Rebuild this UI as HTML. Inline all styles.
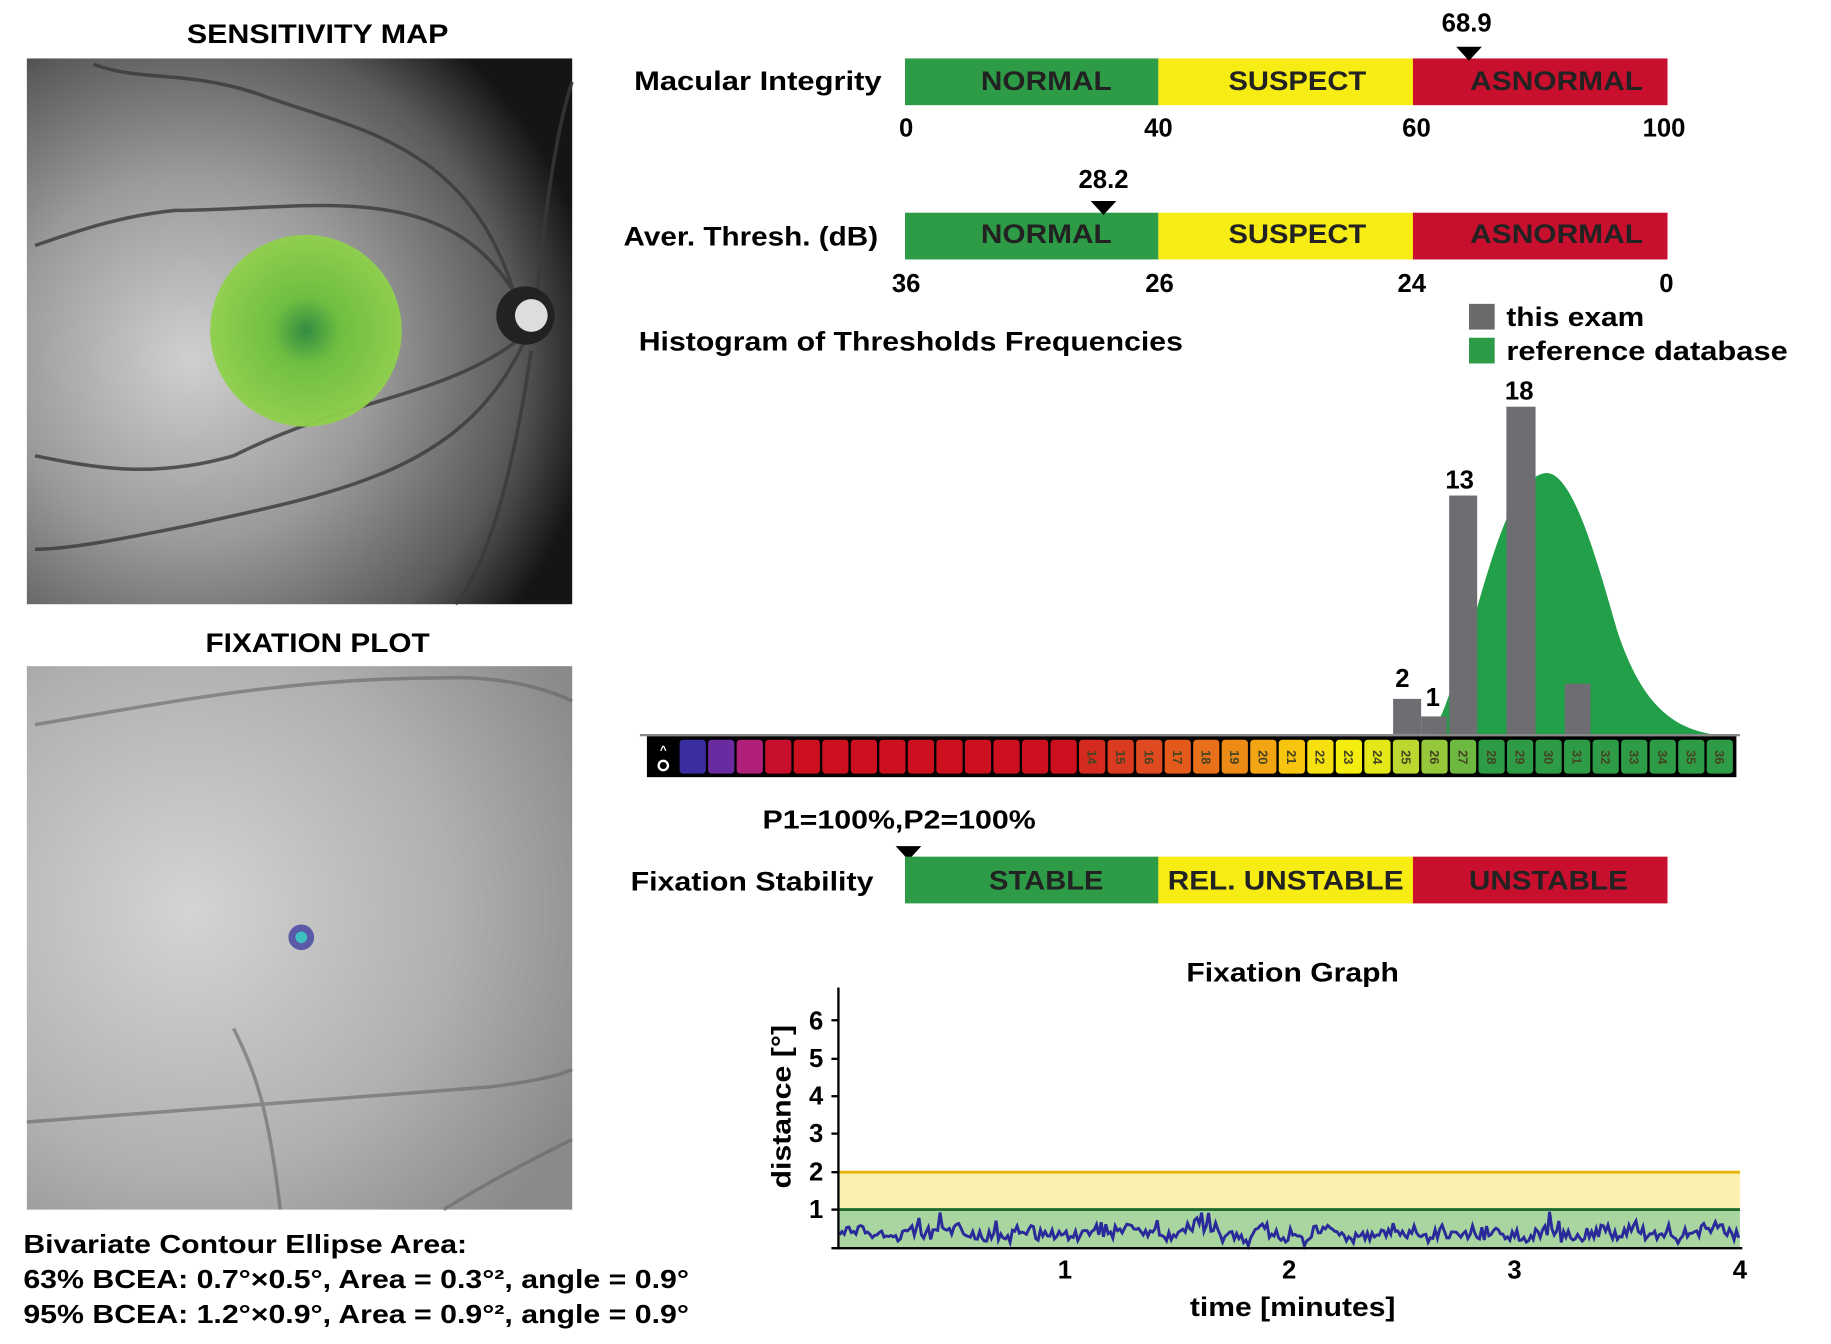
<!DOCTYPE html>
<html><head><meta charset="utf-8"><style>
html,body{margin:0;padding:0;background:#fff;}
svg{display:block;font-family:"Liberation Sans",Arial,sans-serif;font-weight:bold;}
</style></head><body>
<svg id="s" width="1831" height="1344" viewBox="0 0 1568 1150" preserveAspectRatio="none" xmlns="http://www.w3.org/2000/svg">
<defs>
<radialGradient id="fund" cx="0.3" cy="0.55" r="0.75">
<stop offset="0" stop-color="#d0d0d0"/><stop offset="0.45" stop-color="#9a9a9a"/><stop offset="0.8" stop-color="#5a5a5a"/><stop offset="1" stop-color="#151515"/>
</radialGradient>
<radialGradient id="fix" cx="0.3" cy="0.45" r="0.8">
<stop offset="0" stop-color="#d4d4d4"/><stop offset="0.6" stop-color="#b0b0b0"/><stop offset="1" stop-color="#8a8a8a"/>
</radialGradient>
<radialGradient id="disc" cx="0.5" cy="0.5" r="0.5">
<stop offset="0" stop-color="#2c8a3a"/><stop offset="0.35" stop-color="#6cbf3c"/><stop offset="1" stop-color="#8fd14a"/>
</radialGradient>
</defs>
<text x="272" y="37" font-size="23" text-anchor="middle" textLength="224" lengthAdjust="spacingAndGlyphs">SENSITIVITY MAP</text>
<rect x="23" y="50" width="467" height="467" fill="url(#fund)"/>
<g fill="none" stroke="#3a3a3a" stroke-width="3" opacity="0.8">
<path d="M440 250 C400 120 300 110 220 80 C160 60 120 70 80 55"/>
<path d="M440 250 C380 150 260 180 150 180 C100 185 60 200 30 210"/>
<path d="M445 290 C380 340 300 340 200 390 C130 410 80 400 30 390"/>
<path d="M450 290 C400 400 300 420 160 450 C110 460 60 470 30 470"/>
<path d="M455 300 C440 400 420 480 390 517"/>
<path d="M460 250 C470 150 480 100 490 70"/>
</g>
<circle cx="450" cy="270" r="25" fill="#222"/><circle cx="455" cy="270" r="14" fill="#ddd"/>
<circle cx="262" cy="283" r="82" fill="url(#disc)" opacity="0.95"/>
<text x="272" y="558" font-size="23" text-anchor="middle" textLength="192" lengthAdjust="spacingAndGlyphs">FIXATION PLOT</text>
<rect x="23" y="570" width="467" height="465" fill="url(#fix)"/>
<g fill="none" stroke="#666" stroke-width="3" opacity="0.6">
<path d="M30 620 C150 600 250 580 380 580 C430 578 470 590 490 600"/>
<path d="M23 960 C150 950 300 940 420 930 C460 925 480 920 490 915"/>
<path d="M380 1035 C420 1010 460 990 490 975"/>
<path d="M200 880 C220 920 230 950 240 1035"/>
</g>
<circle cx="258" cy="802" r="11" fill="#5a5aa8"/><circle cx="258" cy="802" r="5" fill="#3cc0c0"/>
<g font-size="22">
<text x="20" y="1072" textLength="380" lengthAdjust="spacingAndGlyphs">Bivariate Contour Ellipse Area:</text>
<text x="20" y="1102" textLength="570" lengthAdjust="spacingAndGlyphs">63% BCEA: 0.7°×0.5°, Area = 0.3°², angle = 0.9°</text>
<text x="20" y="1132" textLength="570" lengthAdjust="spacingAndGlyphs">95% BCEA: 1.2°×0.9°, Area = 0.9°², angle = 0.9°</text>
</g>

<g font-size="23">
<text x="543" y="77" textLength="212" lengthAdjust="spacingAndGlyphs">Macular Integrity</text>
<rect x="775" y="50" width="217" height="40" fill="#2e9b47"/><rect x="992" y="50" width="218" height="40" fill="#f7ec13"/><rect x="1210" y="50" width="218" height="40" fill="#c8102e"/>
<text x="896" y="77" text-anchor="middle" fill="#222" textLength="112" lengthAdjust="spacingAndGlyphs">NORMAL</text><text x="1111" y="77" text-anchor="middle" fill="#222" textLength="118" lengthAdjust="spacingAndGlyphs">SUSPECT</text><text x="1333" y="77" text-anchor="middle" fill="#222" textLength="148" lengthAdjust="spacingAndGlyphs">ASNORMAL</text>
<text x="1256" y="27" text-anchor="middle" font-size="22">68.9</text><path d="M1247 40 L1269 40 L1258 52Z"/>
<text x="776" y="117" text-anchor="middle" font-size="22">0</text><text x="992" y="117" text-anchor="middle" font-size="22">40</text><text x="1213" y="117" text-anchor="middle" font-size="22">60</text><text x="1425" y="117" text-anchor="middle" font-size="22">100</text>

<text x="534" y="210" textLength="218" lengthAdjust="spacingAndGlyphs">Aver. Thresh. (dB)</text>
<rect x="775" y="182" width="217" height="40" fill="#2e9b47"/><rect x="992" y="182" width="218" height="40" fill="#f7ec13"/><rect x="1210" y="182" width="218" height="40" fill="#c8102e"/>
<text x="896" y="208" text-anchor="middle" fill="#222" textLength="112" lengthAdjust="spacingAndGlyphs">NORMAL</text><text x="1111" y="208" text-anchor="middle" fill="#222" textLength="118" lengthAdjust="spacingAndGlyphs">SUSPECT</text><text x="1333" y="208" text-anchor="middle" fill="#222" textLength="148" lengthAdjust="spacingAndGlyphs">ASNORMAL</text>
<text x="945" y="161" text-anchor="middle" font-size="22">28.2</text><path d="M934 172 L956 172 L945 184Z"/>
<text x="776" y="250" text-anchor="middle" font-size="22">36</text><text x="993" y="250" text-anchor="middle" font-size="22">26</text><text x="1209" y="250" text-anchor="middle" font-size="22">24</text><text x="1427" y="250" text-anchor="middle" font-size="22">0</text>

<text x="547" y="300" textLength="466" lengthAdjust="spacingAndGlyphs">Histogram of Thresholds Frequencies</text>
<rect x="1258" y="260" width="22" height="22" fill="#6a6a6a"/><text x="1290" y="279" textLength="118" lengthAdjust="spacingAndGlyphs">this exam</text>
<rect x="1258" y="289" width="22" height="22" fill="#2e9b47"/><text x="1290" y="308" textLength="241" lengthAdjust="spacingAndGlyphs">reference database</text>
</g>
<path d="M1225 628 C1240 610 1250 560 1265 520 C1285 450 1300 410 1322 405 C1345 400 1365 470 1385 540 C1405 600 1430 622 1465 628 Z" fill="#22a049"/>
<g fill="#6e6e72">
<rect x="1193" y="598" width="24" height="30"/><rect x="1217" y="613" width="22" height="15"/><rect x="1241" y="424" width="24" height="204"/><rect x="1290" y="348" width="25" height="280"/><rect x="1340" y="585" width="22" height="43"/>
</g>
<g font-size="22" text-anchor="middle"><text x="1201" y="588">2</text><text x="1227" y="604">1</text><text x="1250" y="418">13</text><text x="1301" y="342">18</text></g>
<line x1="548" y1="629" x2="1490" y2="629" stroke="#888" stroke-width="2"/>
<rect x="554" y="630" width="933" height="35" fill="#000"/>
<g id="cells"></g>
<text x="568" y="645" font-size="10" fill="#fff" text-anchor="middle">^</text><circle cx="568" cy="655" r="4" fill="none" stroke="#fff" stroke-width="2"/>

<text x="770" y="709" font-size="22" text-anchor="middle" textLength="234" lengthAdjust="spacingAndGlyphs">P1=100%,P2=100%</text>
<path d="M767 724 L789 724 L778 736Z"/>
<text x="540" y="762" font-size="23" textLength="208" lengthAdjust="spacingAndGlyphs">Fixation Stability</text>
<rect x="775" y="733" width="217" height="40" fill="#2e9b47"/><rect x="992" y="733" width="218" height="40" fill="#f7ec13"/><rect x="1210" y="733" width="218" height="40" fill="#c8102e"/>
<g font-size="23" fill="#222" text-anchor="middle"><text x="896" y="761" textLength="98" lengthAdjust="spacingAndGlyphs">STABLE</text><text x="1101" y="761" textLength="202" lengthAdjust="spacingAndGlyphs">REL. UNSTABLE</text><text x="1326" y="761" textLength="136" lengthAdjust="spacingAndGlyphs">UNSTABLE</text></g>

<text x="1107" y="840" font-size="23" text-anchor="middle" textLength="182" lengthAdjust="spacingAndGlyphs">Fixation Graph</text>
<rect x="719" y="1003" width="771" height="32" fill="#fbf0b0"/>
<rect x="719" y="1035" width="771" height="33" fill="#a9d6a0"/>
<line x1="719" y1="1003" x2="1490" y2="1003" stroke="#e8b400" stroke-width="2.5"/>
<line x1="719" y1="1035" x2="1490" y2="1035" stroke="#1f6b30" stroke-width="2.5"/>
<polyline id="noise" fill="none" stroke="#2a2a9a" stroke-width="2.5"/>
<line x1="718" y1="845" x2="718" y2="1069" stroke="#000" stroke-width="2"/>
<line x1="712" y1="1068" x2="1492" y2="1068" stroke="#000" stroke-width="2"/>
<g font-size="22" text-anchor="end">
<text x="705" y="1042">1</text><text x="705" y="1010">2</text><text x="705" y="977">3</text><text x="705" y="945">4</text><text x="705" y="913">5</text><text x="705" y="881">6</text>
</g>
<g stroke="#000" stroke-width="2"><line x1="712" y1="1035" x2="718" y2="1035"/><line x1="712" y1="1003" x2="718" y2="1003"/><line x1="712" y1="970" x2="718" y2="970"/><line x1="712" y1="938" x2="718" y2="938"/><line x1="712" y1="906" x2="718" y2="906"/><line x1="712" y1="873" x2="718" y2="873"/></g>
<text transform="translate(677 947) rotate(-90)" font-size="23" text-anchor="middle" textLength="140" lengthAdjust="spacingAndGlyphs">distance [°]</text>
<g font-size="22" text-anchor="middle"><text x="912" y="1094">1</text><text x="1104" y="1094">2</text><text x="1297" y="1094">3</text><text x="1490" y="1094">4</text></g>
<text x="1107" y="1126" font-size="23" text-anchor="middle" textLength="176" lengthAdjust="spacingAndGlyphs">time [minutes]</text>
</svg>
<script>
var NS="http://www.w3.org/2000/svg";
var cols=["#3a2ea0","#6a2aa0","#b0207a","#c8102e","#cc1020","#cc1020","#cc1020","#cc1020","#cc1020","#cc1020","#cc1020","#cc1020","#cc1020","#cc1020","#d42a20","#da3a20","#e04a20","#e45a1a","#e8701a","#ee8a16","#f2a412","#f7c410","#f7e010","#f5ec10","#e4e818","#bcd830","#94c83a","#6cb840","#2e9b47","#2e9b47","#2e9b47","#2e9b47","#2e9b47","#2e9b47","#2e9b47","#2e9b47","#2e9b47"];
var g=document.getElementById("cells"),x0=581,w=(1485-581)/37;
for(var i=0;i<37;i++){var r=document.createElementNS(NS,"rect");r.setAttribute("x",x0+i*w+1);r.setAttribute("y",633);r.setAttribute("width",w-2);r.setAttribute("height",29);r.setAttribute("rx",3);r.setAttribute("fill",cols[i]);g.appendChild(r);
if(i>=14){var t=document.createElementNS(NS,"text");t.setAttribute("x",x0+i*w+w/2);t.setAttribute("y",652);t.setAttribute("font-size","11");t.setAttribute("text-anchor","middle");t.setAttribute("fill","#442");t.setAttribute("transform","rotate(90 "+(x0+i*w+w/2)+" 648)");t.textContent=i;g.appendChild(t);}}
var pts=[],seed=7;function rnd(){seed=(seed*9301+49297)%233280;return seed/233280;}
var b=0;for(var x=719;x<=1490;x+=2){b=b*0.8+(rnd()-0.5)*6;var y=1056+b+(rnd()-0.5)*10;if(rnd()<0.03)y-=12;pts.push(x+","+y.toFixed(1));}
document.getElementById("noise").setAttribute("points",pts.join(" "));
</script>
</body></html>
